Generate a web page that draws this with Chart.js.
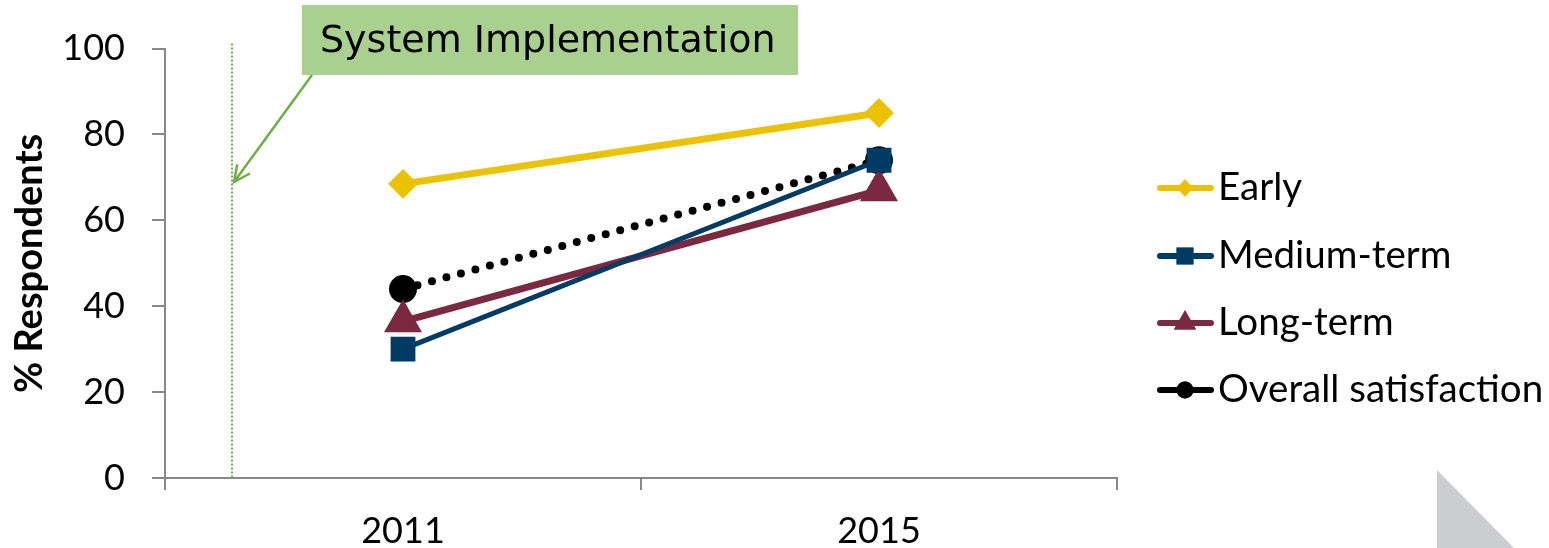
<!DOCTYPE html>
<html>
<head>
<meta charset="utf-8">
<script src="https://cdn.jsdelivr.net/npm/chart.js@4/dist/chart.umd.min.js"></script>
<style>
  html, body { margin: 0; padding: 0; background: #fff; }
  #wrap { width: 1549px; height: 548px; position: relative; }
</style>
</head>
<body>
<div id="wrap"><canvas id="chart"></canvas></div>
<script>
const years = ['2011', '2015'];
const early = [68.5, 85];
const mediumTerm = [30, 74];
const longTerm = [36.5, 67];
const overall = [44, 74];
const yTicks = [0, 20, 40, 60, 80, 100];
const annotationText = 'System Implementation';

const baseFont = 'Lato, "Open Sans", sans-serif';

// green marker line + callout box, legend and the grey corner triangle
const extras = {
    id: 'extras',
    afterDraw(chart) {
        const ctx = chart.ctx;
        const x = chart.scales.x;
        const y = chart.scales.y;
        const lineX = x.left + (x.right - x.left) * 0.0704;

        ctx.save();
        // dotted vertical line
        ctx.strokeStyle = '#70ad47';
        ctx.lineWidth = 2;
        ctx.setLineDash([2, 2]);
        ctx.beginPath();
        ctx.moveTo(lineX, y.top - 5);
        ctx.lineTo(lineX, y.bottom);
        ctx.stroke();
        ctx.setLineDash([]);

        // callout box
        ctx.fillStyle = '#a9d08e';
        ctx.fillRect(302, 5, 496, 70);
        ctx.fillStyle = '#000';
        ctx.font = '38px "DejaVu Sans", sans-serif';
        ctx.textBaseline = 'middle';
        ctx.textAlign = 'left';
        ctx.fillText(annotationText, 320, 42);

        // arrow
        const ax1 = 312, ay1 = 75, ax2 = lineX + 2, ay2 = 182;
        ctx.strokeStyle = '#70ad47';
        ctx.lineWidth = 2.5;
        ctx.beginPath();
        ctx.moveTo(ax1, ay1);
        ctx.lineTo(ax2, ay2);
        const ang = Math.atan2(ay2 - ay1, ax2 - ax1);
        const hl = 18;
        ctx.moveTo(ax2 - hl * Math.cos(ang - 0.45), ay2 - hl * Math.sin(ang - 0.45));
        ctx.lineTo(ax2, ay2);
        ctx.lineTo(ax2 - hl * Math.cos(ang + 0.45), ay2 - hl * Math.sin(ang + 0.45));
        ctx.stroke();

        // legend
        const rows = [188, 256, 323, 390];
        chart.data.datasets.forEach((ds, i) => {
            const ry = rows[i];
            ctx.strokeStyle = ds.borderColor;
            ctx.lineWidth = 6;
            ctx.lineCap = 'round';
            ctx.beginPath();
            ctx.moveTo(1160, ry);
            ctx.lineTo(1211, ry);
            ctx.stroke();
            ctx.lineCap = 'butt';
            ctx.fillStyle = ds.pointBackgroundColor;
            Chart.helpers.drawPoint(ctx, {
                pointStyle: ds.pointStyle,
                radius: ds.pointRadius * 0.85,
                rotation: 0,
                borderWidth: 0
            }, 1185, ry);
            ctx.fill();
            ctx.fillStyle = '#000';
            ctx.font = '38.5px ' + baseFont;
            ctx.textBaseline = 'middle';
            ctx.fillText(ds.label, 1218, ry);
        });

        // grey corner triangle
        ctx.fillStyle = '#cbcdd1';
        ctx.beginPath();
        ctx.moveTo(1437, 470);
        ctx.lineTo(1514, 548);
        ctx.lineTo(1437, 548);
        ctx.closePath();
        ctx.fill();
        ctx.restore();
    }
};

new Chart(document.getElementById('chart'), {
    type: 'line',
    data: {
        labels: years,
        datasets: [{
            label: 'Early',
            data: early,
            borderColor: '#ebc200',
            backgroundColor: '#ebc200',
            pointBackgroundColor: '#ebc200',
            pointBorderColor: '#ebc200',
            borderWidth: 7,
            pointStyle: 'rectRot',
            pointRadius: 10
        }, {
            label: 'Medium-term',
            data: mediumTerm,
            borderColor: '#003b64',
            backgroundColor: '#003b64',
            pointBackgroundColor: '#003b64',
            pointBorderColor: '#003b64',
            borderWidth: 5,
            pointStyle: 'rect',
            pointRadius: 14
        }, {
            label: 'Long-term',
            data: longTerm,
            borderColor: '#7b2942',
            backgroundColor: '#7b2942',
            pointBackgroundColor: '#7b2942',
            pointBorderColor: '#7b2942',
            borderWidth: 7,
            pointStyle: 'triangle',
            pointRadius: 15
        }, {
            label: 'Overall satisfaction',
            data: overall,
            borderColor: '#000',
            backgroundColor: '#000',
            pointBackgroundColor: '#000',
            pointBorderColor: '#000',
            borderWidth: 8,
            borderDash: [0, 15],
            borderCapStyle: 'round',
            pointStyle: 'circle',
            pointRadius: 10
        }]
    },
    options: {
        responsive: true,
        maintainAspectRatio: false,
        animation: false,
        layout: {
            padding: { top: 47, right: 432, left: 0, bottom: 0 }
        },
        plugins: {
            legend: { display: false },
            tooltip: { enabled: false }
        },
        elements: {
            line: { tension: 0 },
            point: { borderWidth: 0 }
        },
        scales: {
            x: {
                offset: true,
                afterFit: s => { s.height = 70; },
                grid: {
                    offset: true,
                    drawOnChartArea: false,
                    tickLength: 12,
                    tickColor: '#888',
                    color: '#888',
                    lineWidth: 2
                },
                border: { color: '#888', width: 2 },
                ticks: {
                    color: '#000',
                    padding: 20,
                    font: { family: baseFont, size: 36 }
                }
            },
            y: {
                min: 0,
                max: 100,
                afterFit: s => { s.width = 165; },
                afterBuildTicks: s => { s.ticks = yTicks.map(v => ({ value: v })); },
                grid: {
                    drawOnChartArea: false,
                    tickLength: 13,
                    tickColor: '#888',
                    lineWidth: 2
                },
                border: { color: '#888', width: 2 },
                ticks: {
                    color: '#000',
                    padding: 27,
                    font: { family: baseFont, size: 36 }
                },
                title: {
                    display: true,
                    text: '% Respondents',
                    color: '#000',
                    padding: { top: 7, bottom: 0 },
                    font: { family: baseFont, size: 38, weight: 'bold' }
                }
            }
        }
    },
    plugins: [extras]
});
</script>
</body>
</html>
